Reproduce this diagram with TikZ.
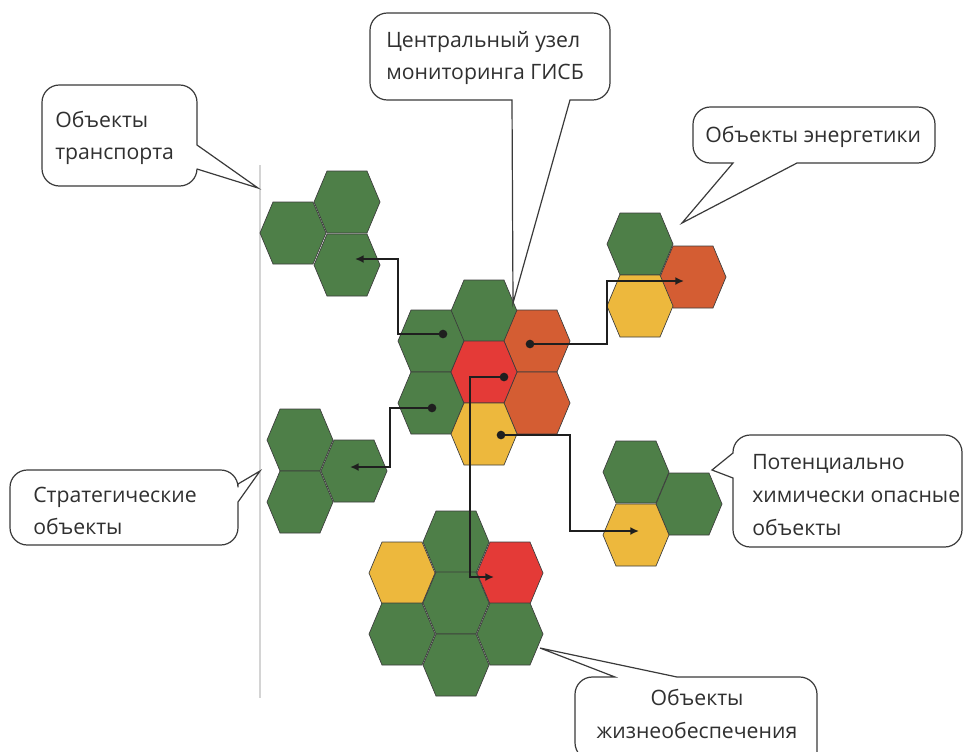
\documentclass[tikz,border=0pt]{standalone}
\usepackage{fontspec}
\setmainfont{Open Sans}
\usetikzlibrary{arrows.meta,calc}
\definecolor{hgreen}{HTML}{4E7F48}
\definecolor{horange}{HTML}{D45D33}
\definecolor{hred}{HTML}{E43A37}
\definecolor{hyellow}{HTML}{EDB83D}
\definecolor{hline}{HTML}{3C3C3C}
\definecolor{ctext}{HTML}{303030}
\definecolor{cline}{HTML}{3A3A3A}
\definecolor{vline}{HTML}{D4D4D4}
\newcommand\hexat[3]{\filldraw[hexcell,fill=#3] (#1,#2) ++(-33,0) -- ++(13,-31) -- ++(40,0) -- ++(13,31) -- ++(-13,31) -- ++(-40,0) -- cycle;}
\begin{document}
\begin{tikzpicture}[x=0.75pt,y=-0.75pt,
  hexcell/.style={draw=hline,line width=0.5pt},
  link/.style={line width=1.6pt,draw=black!88,line join=miter},
  arrowlink/.style={link,-{Latex[length=6.5pt,width=6pt]}},
  dotnode/.style={circle,fill=black!88,inner sep=0pt,minimum size=6.5pt},
  callout/.style={draw=cline,line width=0.9pt,fill=white},
  ctxt/.style={text=ctext,font=\fontsize{15.9}{24.5}\selectfont,inner sep=0pt}]
\useasboundingbox (0,0) rectangle (964,751);
\clip (0,0) rectangle (964,751);
% gray vertical rule
\draw[vline,line width=0.8pt] (260,165) -- (260,698);
% transport cluster
\hexat{347}{202}{hgreen}
\hexat{293}{233}{hgreen}
\hexat{347}{265}{hgreen}
% strategic cluster
\hexat{300}{440}{hgreen}
\hexat{354}{471}{hgreen}
\hexat{300}{502}{hgreen}
% energy cluster
\hexat{640}{244}{hgreen}
\hexat{693}{277}{horange}
\hexat{640}{306}{hyellow}
% chemical cluster
\hexat{636}{472}{hgreen}
\hexat{689}{504}{hgreen}
\hexat{636}{535}{hyellow}
% central cluster
\hexat{484}{311}{hgreen}
\hexat{431}{341}{hgreen}
\hexat{431}{403}{hgreen}
\hexat{537}{341}{horange}
\hexat{537}{403}{horange}
\hexat{484}{372}{hred}
\hexat{484}{434}{hyellow}
% life support cluster
\hexat{456}{542}{hgreen}
\hexat{402}{573}{hyellow}
\hexat{510}{573}{hred}
\hexat{456}{603}{hgreen}
\hexat{402}{634}{hgreen}
\hexat{510}{634}{hgreen}
\hexat{456}{665}{hgreen}
% connector points
\node[dotnode] (d1) at (443,334) {};
\node[dotnode] (d2) at (432,408) {};
\node[dotnode] (d3) at (530,344) {};
\node[dotnode] (d4) at (501,435) {};
\node[dotnode] (d5) at (504,377) {};
\coordinate (b1) at (398,300);
\coordinate (b2) at (390,440);
\coordinate (b3) at (607,310);
\coordinate (b4) at (570,480);
\coordinate (b5) at (470,480);
\coordinate (t1) at (355,259);
\coordinate (t2) at (350,467);
\coordinate (t3) at (684,281);
\coordinate (t4) at (639,531);
\coordinate (t5) at (494,577);
\draw[arrowlink] (d1.center) -| (b1) |- (t1);
\draw[arrowlink] (d2.center) -| (b2) |- (t2);
\draw[arrowlink] (d3.center) -| (b3) |- (t3);
\draw[arrowlink] (d4.center) -| (b4) |- (t4);
\draw[arrowlink] (d5.center) -| (b5) |- (t5);
% callouts
\draw[callout] (370,13) [rounded corners=13] -- (610,13) -- (610,100) [sharp corners] -- (570,100) -- (513,303) -- (512,100) [rounded corners=13] -- (370,100) -- cycle;
\draw[callout] (42,85) [rounded corners=13] -- (197,85) [sharp corners] -- (197,145) -- (258,188) -- (197,169) [rounded corners=13] -- (197,186) -- (42,186) -- cycle;
\draw[callout] (693,107) [rounded corners=13] -- (935,107) -- (935,163) [sharp corners] -- (797,163) -- (682,223) -- (733,163) [rounded corners=13] -- (693,163) -- cycle;
\draw[callout] (10,470) [rounded corners=13] -- (238,470) [sharp corners] -- (238,484) -- (260,471) -- (238,502) [rounded corners=13] -- (238,545) -- (10,545) -- cycle;
\draw[callout] (733,435) [rounded corners=13] -- (962,435) -- (962,547) -- (733,547) [sharp corners] -- (733,478) -- (712,470) -- (733,453) [rounded corners=13] -- cycle;
\draw[callout] (575,760) [rounded corners=13] -- (575,677) [sharp corners] -- (615,677) -- (540,648) -- (677,677) [rounded corners=13] -- (817,677) -- (817,770) -- cycle;
% texts
\node[ctxt,anchor=west,align=left] (tA) at (386,58) {Центральный узел\\мониторинга ГИСБ};
\node[ctxt,anchor=west,align=left] (tB) at (55,138) {Объекты\\транспорта};
\node[ctxt,anchor=west,align=left] (tC) at (705,137) {Объекты энергетики};
\node[ctxt,anchor=west,align=left] (tD) at (33,511) {Стратегические\\объекты};
\node[ctxt,anchor=west,align=left] (tE) at (752,495) {Потенциально\\химически опасные\\объекты};
\node[ctxt,align=center] (tF) at (697,714) {Объекты\\жизнеобеспечения};
\end{tikzpicture}
\end{document}
